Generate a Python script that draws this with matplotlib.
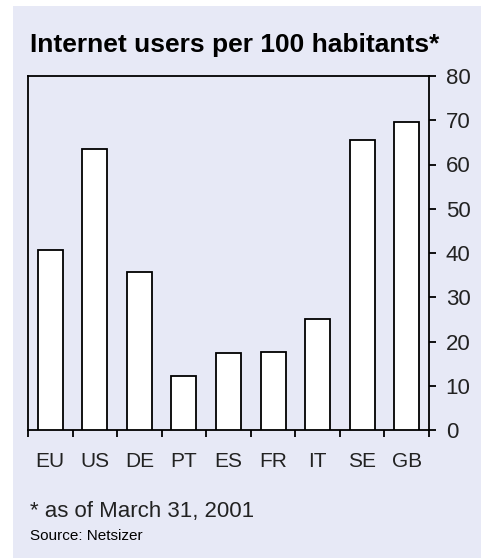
import matplotlib
matplotlib.use("Agg")
import matplotlib.pyplot as plt
from matplotlib.patches import Rectangle

# data
countries = ["EU", "US", "DE", "PT", "ES", "FR", "IT", "SE", "GB"]
users_per_100 = [40.7, 63.4, 35.7, 12.3, 17.3, 17.7, 25.0, 65.6, 69.7]
y_ticks = [0, 10, 20, 30, 40, 50, 60, 70, 80]

panel_color = "#E7E9F6"
text_color = "#222222"

plt.rcParams["font.family"] = ["Liberation Sans", "DejaVu Sans"]

fig = plt.figure(figsize=(4.87, 5.60), dpi=100)
fig.patch.set_facecolor("white")

# lavender panel behind everything
panel = Rectangle((13 / 487, 1 - 558 / 560), 468 / 487, 552 / 560,
                  transform=fig.transFigure, facecolor=panel_color,
                  edgecolor="none", zorder=-1)
fig.add_artist(panel)

ax = fig.add_axes([28 / 487, 1 - 430 / 560, 401 / 487, 354 / 560])
ax.set_zorder(2)
ax.set_facecolor(panel_color)

x = list(range(len(countries)))
ax.bar(x, users_per_100, width=0.56, color="white", edgecolor="black",
       linewidth=1.3, zorder=3)

ax.set_xlim(-0.5, len(countries) - 0.5)
ax.set_ylim(0, 80)

# y axis on the right
ax.yaxis.tick_right()
ax.set_yticks(y_ticks)
ax.tick_params(axis="y", direction="out", length=5, width=1.3, labelsize=16,
               colors="black", labelcolor=text_color, pad=7)

# x ticks at category boundaries, labels centred under bars
ax.set_xticks([i - 0.5 for i in range(len(countries) + 1)])
ax.set_xticklabels([])
ax.set_xticks(x, minor=True)
ax.set_xticklabels(countries, minor=True)
ax.tick_params(axis="x", which="major", direction="out", length=5, width=1.3)
ax.tick_params(axis="x", which="minor", length=0, labelsize=15,
               labelcolor=text_color, pad=16)

for s in ax.spines.values():
    s.set_linewidth(1.3)
    s.set_color("black")

fig.text(30 / 487, 1 - 45 / 560, "Internet users per 100 habitants*",
         fontsize=19, fontweight="bold", color="black", va="center", ha="left")
fig.text(30 / 487, 1 - 512 / 560, "* as of March 31, 2001",
         fontsize=16, color=text_color, va="center", ha="left")
fig.text(30 / 487, 1 - 536 / 560, "Source: Netsizer",
         fontsize=11, color="black", va="center", ha="left")

fig.savefig("out.png", dpi=100, facecolor=fig.get_facecolor())
